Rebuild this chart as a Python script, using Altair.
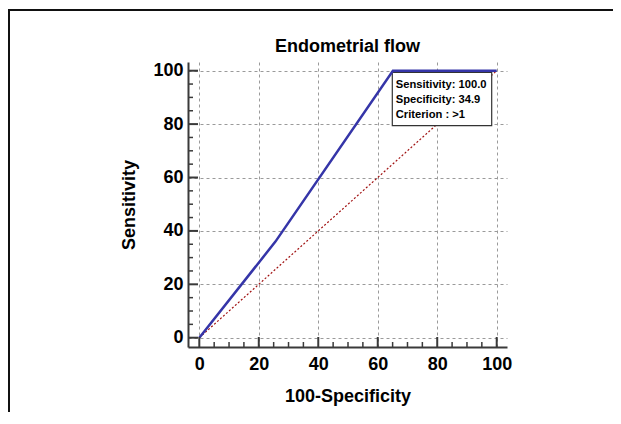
import altair as alt
import pandas as pd

# ---- data ----
roc_fpr = [0.0, 25.6, 65.1, 100.0]      # 100 - specificity
roc_sens = [0.0, 36.0, 100.0, 100.0]    # sensitivity
diag_x = [0, 100]
diag_y = [0, 100]
major_ticks = [0, 20, 40, 60, 80, 100]
minor_ticks = [5, 10, 15, 25, 30, 35, 45, 50, 55, 65, 70, 75, 85, 90, 95]
annot_lines = ["Sensitivity: 100.0", "Specificity: 34.9", "Criterion : >1"]
chart_title = "Endometrial flow"
x_title = "100-Specificity"
y_title = "Sensitivity"

FONT = "Liberation Sans"
W, H = 319, 285
AXC = "#3a3a3a"

xscale = alt.Scale(domain=[-3.8, 103.46], nice=False, zero=False)
yscale = alt.Scale(domain=[-3.48, 103.26], nice=False, zero=False)

roc_df = pd.DataFrame({"fpr": roc_fpr, "sens": roc_sens})
diag_df = pd.DataFrame({"fpr": diag_x, "sens": diag_y})
maj_df = pd.DataFrame({"fpr": major_ticks, "sens": major_ticks})
min_df = pd.DataFrame({"fpr": minor_ticks, "sens": minor_ticks})
one = pd.DataFrame({"k": [0]})
annot_df = pd.DataFrame({"label": ["\n".join(annot_lines)]})
title_df = pd.DataFrame({"label": [chart_title]})

xaxis = alt.Axis(values=major_ticks, title=x_title, grid=True, gridDash=[3, 3],
                 gridColor="#9a9a9a", gridWidth=1, ticks=False, domainColor=AXC,
                 domainWidth=2, labelFont=FONT, labelFontSize=18, labelFontWeight="bold",
                 labelColor="black", labelPadding=8, labelFlush=False, labelOverlap=False,
                 titleFont=FONT, titleFontSize=18, titleFontWeight="bold",
                 titleColor="black", titleY=54, titleBaseline="alphabetic")
yaxis = alt.Axis(values=major_ticks, title=y_title, grid=True, gridDash=[3, 3],
                 gridColor="#9a9a9a", gridWidth=1, ticks=False, domainColor=AXC,
                 domainWidth=2, labelFont=FONT, labelFontSize=18, labelFontWeight="bold",
                 labelColor="black", labelPadding=5, labelFlush=False, labelOverlap=False,
                 titleFont=FONT, titleFontSize=18, titleFontWeight="bold",
                 titleColor="black", titleX=-54, titleBaseline="alphabetic")

X = alt.X("fpr:Q", scale=xscale, axis=xaxis)
Y = alt.Y("sens:Q", scale=yscale, axis=yaxis)

diag = alt.Chart(diag_df).mark_line(color="#a01010", strokeWidth=1.2, strokeDash=[2, 2]).encode(
    x=X, y=Y)

box = alt.Chart(one).mark_rect(fill="white", stroke="#333333", strokeWidth=1.2).encode(
    x=alt.value(204.3), x2=alt.value(303.7), y=alt.value(10.3), y2=alt.value(63.7))

annot = alt.Chart(annot_df).mark_text(
    align="left", baseline="alphabetic", font=FONT, fontSize=11.2, fontWeight="bold",
    color="black", lineBreak="\n", lineHeight=15).encode(
    x=alt.value(207.7), y=alt.value(26), text="label:N")

roc = alt.Chart(roc_df).mark_line(color="#3535a8", strokeWidth=2.5).encode(x=X, y=Y)

xmaj = alt.Chart(maj_df).mark_rule(color=AXC, strokeWidth=2).encode(
    x=X, y=alt.value(H), y2=alt.value(H - 10))
xmin = alt.Chart(min_df).mark_rule(color=AXC, strokeWidth=1.5).encode(
    x=X, y=alt.value(H), y2=alt.value(H - 5))
ymaj = alt.Chart(maj_df).mark_rule(color=AXC, strokeWidth=2).encode(
    y=Y, x=alt.value(0), x2=alt.value(10))
ymin = alt.Chart(min_df).mark_rule(color=AXC, strokeWidth=1.5).encode(
    y=Y, x=alt.value(0), x2=alt.value(5))

title = alt.Chart(title_df).mark_text(
    align="center", baseline="alphabetic", font=FONT, fontSize=18, fontWeight="bold",
    color="black").encode(x=alt.value(W / 2), y=alt.value(-10.5), text="label:N")

frame_top = alt.Chart(one).mark_rule(color="#111111", strokeWidth=2).encode(
    x=alt.value(-180), x2=alt.value(440), y=alt.value(-52))
frame_left = alt.Chart(one).mark_rule(color="#111111", strokeWidth=2).encode(
    x=alt.value(-179), y=alt.value(-53), y2=alt.value(400))

chart = alt.layer(diag, box, annot, roc, xmaj, xmin, ymaj, ymin, title,
                  frame_top, frame_left).properties(
    width=W, height=H,
    background="white",
    autosize=alt.AutoSizeParams(type="none"),
    padding={"left": 180, "top": 54, "right": 106, "bottom": 65},
).configure_view(stroke=None)

chart.save("out.html", embed_options={"renderer": "svg", "actions": False})
